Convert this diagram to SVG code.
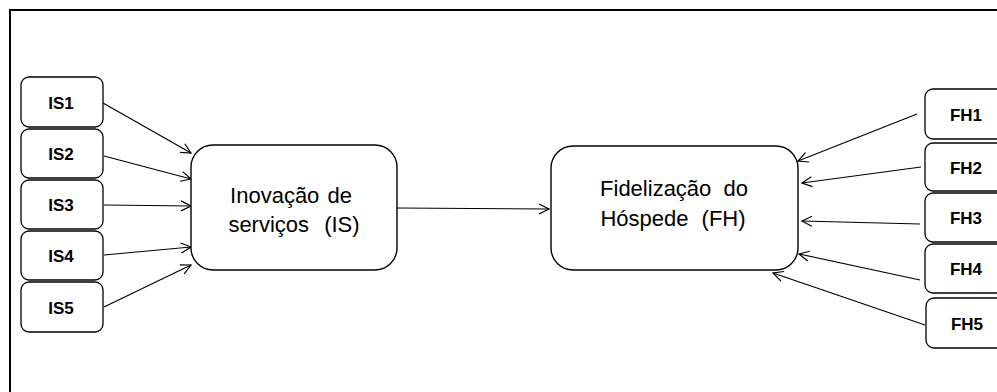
<svg xmlns="http://www.w3.org/2000/svg" width="997" height="392" viewBox="0 0 997 392">
<defs>
<style>
.sm{fill:#fff;stroke:#000;stroke-width:1.3}
.big{fill:#fff;stroke:#000;stroke-width:1.4}
.lbl{font-family:"Liberation Sans",Arial,sans-serif;font-size:17px;font-weight:bold;fill:#000;text-anchor:middle}
.txt{font-family:"Liberation Sans",Arial,sans-serif;font-size:22px;fill:#000;text-anchor:middle}
.cn{stroke:#000;stroke-width:1.2;fill:none;marker-end:url(#ah)}
</style>
<marker id="ah" markerUnits="userSpaceOnUse" markerWidth="14" markerHeight="14" refX="11" refY="6" orient="auto">
<path d="M1,1 L11,6 L1,11" fill="none" stroke="#000" stroke-width="1.2"/>
</marker>
</defs>
<rect x="0" y="0" width="997" height="392" fill="#fff"/>
<rect x="10" y="10" width="1000" height="400" fill="none" stroke="#000" stroke-width="2"/>
<g id="connectors">
<line class="cn" x1="103" y1="103" x2="191" y2="153"/>
<line class="cn" x1="104" y1="156" x2="191" y2="179"/>
<line class="cn" x1="104" y1="205" x2="191" y2="206"/>
<line class="cn" x1="104" y1="255" x2="191" y2="247"/>
<line class="cn" x1="104" y1="307" x2="191" y2="265"/>
<line class="cn" x1="397" y1="208" x2="549" y2="209"/>
<line class="cn" x1="917" y1="114" x2="798" y2="161"/>
<line class="cn" x1="921" y1="167" x2="802" y2="183"/>
<line class="cn" x1="920" y1="224" x2="802" y2="221"/>
<line class="cn" x1="920" y1="280" x2="799" y2="254"/>
<line class="cn" x1="925" y1="325" x2="773" y2="273"/>
</g>
<g id="IS1"><rect class="sm" x="21" y="77" width="82" height="50" rx="8"/><text class="lbl" x="61" y="109">IS1</text></g>
<g id="IS2"><rect class="sm" x="21" y="129" width="82" height="49" rx="8"/><text class="lbl" x="61" y="160">IS2</text></g>
<g id="IS3"><rect class="sm" x="21" y="180" width="82" height="49" rx="8"/><text class="lbl" x="61" y="211">IS3</text></g>
<g id="IS4"><rect class="sm" x="21" y="231" width="82" height="49" rx="8"/><text class="lbl" x="61" y="262">IS4</text></g>
<g id="IS5"><rect class="sm" x="21" y="282" width="82" height="50" rx="8"/><text class="lbl" x="61" y="313.5">IS5</text></g>
<g id="IS"><rect class="big" x="191" y="145" width="206" height="125" rx="22"/>
<text class="txt" x="291" y="203" word-spacing="2">Inovação de</text>
<text class="txt" x="294" y="232" word-spacing="9">serviços (IS)</text></g>
<g id="FH"><rect class="big" x="551" y="146" width="247" height="124" rx="22"/>
<text class="txt" x="674" y="196" word-spacing="6">Fidelização do</text>
<text class="txt" x="673" y="226" word-spacing="7">Hóspede (FH)</text></g>
<g id="FH1"><rect class="sm" x="925" y="89" width="84" height="50" rx="8"/><text class="lbl" x="966" y="121">FH1</text></g>
<g id="FH2"><rect class="sm" x="925" y="143" width="84" height="48" rx="8"/><text class="lbl" x="966" y="174">FH2</text></g>
<g id="FH3"><rect class="sm" x="925" y="193" width="84" height="49" rx="8"/><text class="lbl" x="966" y="224">FH3</text></g>
<g id="FH4"><rect class="sm" x="925" y="244" width="84" height="49" rx="8"/><text class="lbl" x="966" y="275">FH4</text></g>
<g id="FH5"><rect class="sm" x="926" y="298" width="84" height="50" rx="8"/><text class="lbl" x="967" y="329.5">FH5</text></g>
</svg>
